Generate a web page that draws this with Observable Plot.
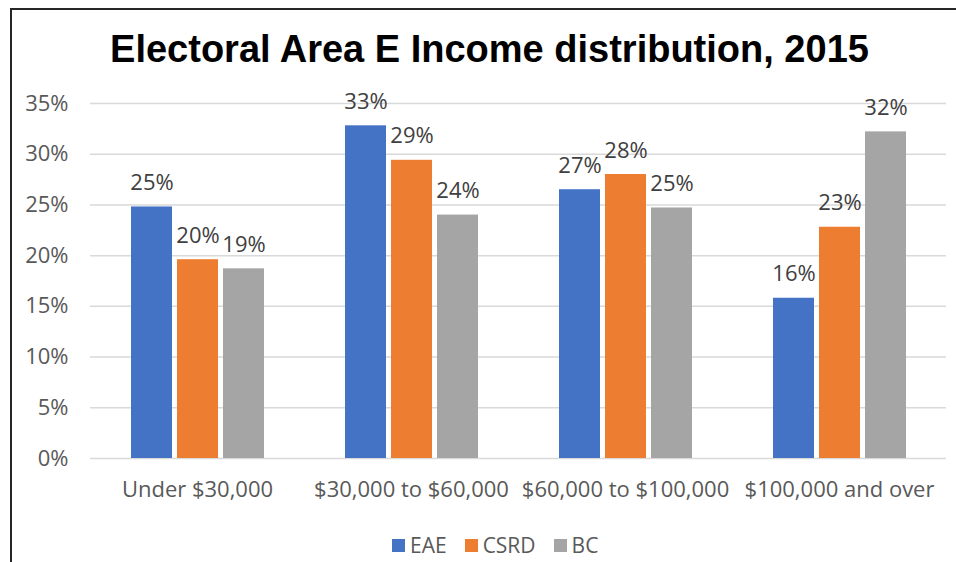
<!DOCTYPE html>
<html>
<head>
<meta charset="utf-8">
<script src="https://cdn.jsdelivr.net/npm/d3@7"></script>
<script src="https://cdn.jsdelivr.net/npm/@observablehq/plot@0.6"></script>
<style>
  html, body { margin: 0; padding: 0; background: #fff; width: 956px; height: 562px; overflow: hidden; }
  #frame { position: absolute; left: 10px; top: 8px; width: 980px; height: 600px; border-left: 2px solid #262626; border-top: 2px solid #262626; }
  #title { position: absolute; left: 10px; width: 959px; top: 30px; text-align: center; font-family: "Liberation Sans", Arial, sans-serif; font-weight: bold; font-size: 38px; line-height: 38px; color: #000; }
  #chart { position: absolute; left: 0; top: 0; }
  #legend { position: absolute; left: 392px; top: 532px; display: flex; align-items: center; font-family: "Open Sans", sans-serif; font-size: 21px; color: #595959; line-height: 26px; }
  #legend .item { display: flex; align-items: center; margin-right: 18px; }
  #legend .sw { width: 13px; height: 13px; margin-right: 5px; }
</style>
</head>
<body>
<div id="frame"></div>
<div id="chart"></div>
<div id="title">Electoral Area E Income distribution, 2015</div>
<div id="legend"></div>
<script>
const categories = ["Under $30,000", "$30,000 to $60,000", "$60,000 to $100,000", "$100,000 and over"];
const series = ["EAE", "CSRD", "BC"];
const eae  = [0.248, 0.328, 0.265, 0.158];
const csrd = [0.196, 0.294, 0.280, 0.228];
const bc   = [0.187, 0.240, 0.247, 0.322];
const colors = ["#4472C4", "#ED7D31", "#A5A5A5"];
const yTicks = [0, 0.05, 0.10, 0.15, 0.20, 0.25, 0.30, 0.35];

const valuesBySeries = {EAE: eae, CSRD: csrd, BC: bc};
const data = [];
categories.forEach((c, i) => series.forEach(s => data.push({category: c, series: s, value: valuesBySeries[s][i]})));
const pct = d3.format(".0%");

const chart = Plot.plot({
  width: 956,
  height: 520,
  marginTop: 103,
  marginBottom: 62,
  marginLeft: 89,
  marginRight: 9,
  style: {fontFamily: "Open Sans, sans-serif", fontSize: "22px", color: "#595959", background: "transparent"},
  fx: {domain: categories, paddingInner: 0, paddingOuter: 0, label: null},
  x: {domain: series, paddingInner: 0.109, paddingOuter: 0.88, axis: null},
  y: {domain: [0, 0.35], label: null},
  color: {domain: series, range: colors},
  marks: [
    Plot.gridY(yTicks, {stroke: "#d9d9d9", strokeOpacity: 1, strokeWidth: 1.5}),
    Plot.axisY(yTicks, {tickSize: 0, tickPadding: 22, tickFormat: pct, fill: "#595959", fontSize: 22, label: null}),
    Plot.axisFx({anchor: "bottom", tickSize: 0, tickPadding: 23, fill: "#595959", fontSize: 22, label: null}),
    Plot.barY(data, {fx: "category", x: "series", y: "value", fill: "series"}),
    Plot.text(data, {fx: "category", x: "series", y: "value", text: d => pct(d.value), dy: -24, fill: "#404040", fontSize: 22})
  ]
});
document.getElementById("chart").appendChild(chart);

const legend = document.getElementById("legend");
series.forEach((s, i) => {
  const item = document.createElement("div");
  item.className = "item";
  const sw = document.createElement("div");
  sw.className = "sw";
  sw.style.background = colors[i];
  const t = document.createElement("span");
  t.textContent = s;
  item.appendChild(sw);
  item.appendChild(t);
  legend.appendChild(item);
});
</script>
</body>
</html>
